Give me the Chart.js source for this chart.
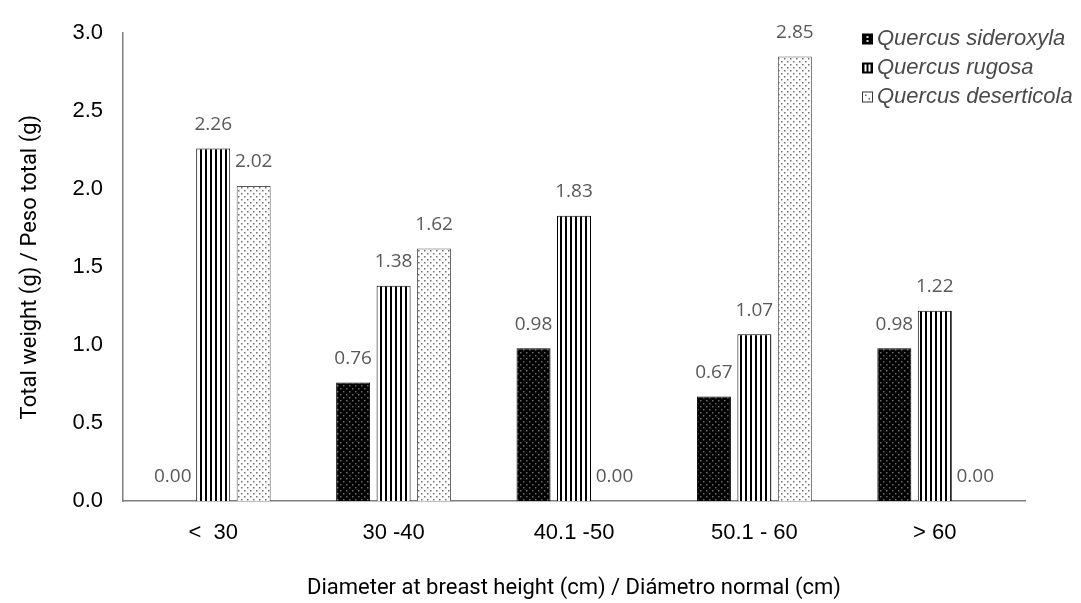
<!DOCTYPE html>
<html>
<head>
<meta charset="utf-8">
<script src="https://cdn.jsdelivr.net/npm/chart.js@4.4.1/dist/chart.umd.min.js"></script>
<style>
  html, body { margin: 0; padding: 0; background: #fff; }
  #wrap { width: 1081px; height: 603px; position: relative; }
</style>
</head>
<body>
<div id="wrap"><canvas id="c" width="1081" height="603"></canvas></div>
<script>
const categories = ['<  30', '30 -40', '40.1 -50', '50.1 - 60', '> 60'];
const seriesNames = ['Quercus sideroxyla', 'Quercus rugosa', 'Quercus deserticola'];
const sideroxyla = [0.00, 0.76, 0.98, 0.67, 0.98];
const rugosa = [2.26, 1.38, 1.83, 1.07, 1.22];
const deserticola = [2.02, 1.62, 0.00, 2.85, 0.00];
const yTicks = [0, 0.5, 1.0, 1.5, 2.0, 2.5, 3.0];
const yTitle = 'Total weight (g) / Peso total (g)';
const xTitle = 'Diameter at breast height (cm) / Diámetro normal (cm)';

const NARROW = "Roboto, 'Liberation Sans Narrow', sans-serif";

function makeTile(w, h, draw) {
  const t = document.createElement('canvas');
  t.width = w; t.height = h;
  const g = t.getContext('2d');
  draw(g);
  return t;
}
const tileDarkDots = makeTile(6, 6, g => {
  g.fillStyle = '#000'; g.fillRect(0, 0, 6, 6);
  g.fillStyle = '#6a6a6a';
  g.fillRect(1, 1, 1.5, 1.5);
  g.fillRect(4, 4, 1.5, 1.5);
});
const tileStripes = makeTile(5, 4, g => {
  g.fillStyle = '#fff'; g.fillRect(0, 0, 5, 4);
  g.fillStyle = '#000'; g.fillRect(0, 0, 2, 4);
});
const tileLightDots = makeTile(6, 6, g => {
  g.fillStyle = '#fff'; g.fillRect(0, 0, 6, 6);
  g.fillStyle = '#707070';
  g.fillRect(1, 1, 1.5, 1.5);
  g.fillRect(4, 4, 1.5, 1.5);
});

const ctx = document.getElementById('c').getContext('2d');
const patDark = ctx.createPattern(tileDarkDots, 'repeat');
const patStripe = ctx.createPattern(tileStripes, 'repeat');
const patLight = ctx.createPattern(tileLightDots, 'repeat');

function bw(v) { return c => (c.raw === 0 ? 0 : v); }

const dataLabels = {
  id: 'dataLabels',
  afterDatasetsDraw(chart) {
    const c = chart.ctx;
    c.save();
    c.font = "19px 'Open Sans', sans-serif";
    c.fillStyle = '#595959';
    c.textAlign = 'center';
    c.textBaseline = 'middle';
    chart.data.datasets.forEach((ds, i) => {
      chart.getDatasetMeta(i).data.forEach((el, j) => {
        c.fillText(ds.data[j].toFixed(2), el.x, el.y - 24);
      });
    });
    c.restore();
  }
};

const legendIcons = [
  (c, x, y) => {
    c.fillStyle = '#000'; c.fillRect(x, y, 11, 11);
    c.fillStyle = '#ddd'; c.fillRect(x + 4.5, y + 2.5, 2, 2); c.fillRect(x + 4.5, y + 6.5, 2, 2);
  },
  (c, x, y) => {
    c.fillStyle = '#000'; c.fillRect(x, y, 11, 11);
    c.fillStyle = '#fff'; c.fillRect(x + 2.5, y + 2, 2, 7); c.fillRect(x + 6.5, y + 2, 2, 7);
  },
  (c, x, y) => {
    c.fillStyle = '#fff'; c.fillRect(x, y, 11, 11);
    c.strokeStyle = '#333'; c.lineWidth = 1; c.strokeRect(x + 0.5, y + 0.5, 10, 10);
    c.fillStyle = '#666'; c.fillRect(x + 3, y + 3, 1.5, 1.5); c.fillRect(x + 6.5, y + 6.5, 1.5, 1.5);
  }
];
const customLegend = {
  id: 'customLegend',
  afterDraw(chart) {
    const c = chart.ctx;
    c.save();
    c.font = "italic 22px 'Liberation Sans', Arial, sans-serif";
    c.textAlign = 'left';
    c.textBaseline = 'middle';
    const x0 = 862, y0 = 39, gap = 29;
    chart.data.datasets.forEach((ds, i) => {
      const y = y0 + i * gap;
      legendIcons[i](c, x0, y - 5.5);
      c.fillStyle = '#4a4a4a';
      c.fillText(ds.label, x0 + 15, y);
    });
    c.restore();
  }
};

new Chart(ctx, {
  type: 'bar',
  data: {
    labels: categories,
    datasets: [
      { label: seriesNames[0], data: sideroxyla, backgroundColor: patDark, borderColor: '#000', borderWidth: bw(1) },
      { label: seriesNames[1], data: rugosa, backgroundColor: patStripe, borderColor: '#000', borderWidth: bw(1) },
      { label: seriesNames[2], data: deserticola, backgroundColor: patLight, borderColor: '#555', borderWidth: bw(1) }
    ]
  },
  options: {
    responsive: false,
    animation: false,
    devicePixelRatio: 1,
    layout: { padding: { top: 27, right: 56, left: 0, bottom: 0 } },
    datasets: { bar: { categoryPercentage: 0.673, barPercentage: 0.84, borderSkipped: 'bottom' } },
    plugins: { legend: { display: false }, tooltip: { enabled: false } },
    scales: {
      x: {
        grid: { display: false, drawTicks: false },
        border: { display: true, color: '#7f7f7f', width: 1.5 },
        ticks: { color: '#000', padding: 19, font: { family: "'Liberation Sans', Arial, sans-serif", size: 22 } },
        title: { display: true, text: xTitle, color: '#000', padding: { top: 0, bottom: 1 }, font: { family: NARROW, size: 22 } },
        afterFit(s) { s.height = 102; }
      },
      y: {
        min: 0, max: 3,
        afterBuildTicks(s) { s.ticks = yTicks.map(v => ({ value: v })); },
        grid: { display: false, drawTicks: false },
        border: { display: true, color: '#7f7f7f', width: 1.5 },
        ticks: { color: '#000', padding: 20, font: { family: "'Liberation Sans', Arial, sans-serif", size: 22 }, callback: v => Number(v).toFixed(1) },
        title: { display: true, text: yTitle, color: '#000', padding: { top: 17, bottom: 0 }, font: { family: NARROW, size: 22 } },
        afterFit(s) { s.width = 123; }
      }
    }
  },
  plugins: [dataLabels, customLegend]
});
</script>
</body>
</html>
